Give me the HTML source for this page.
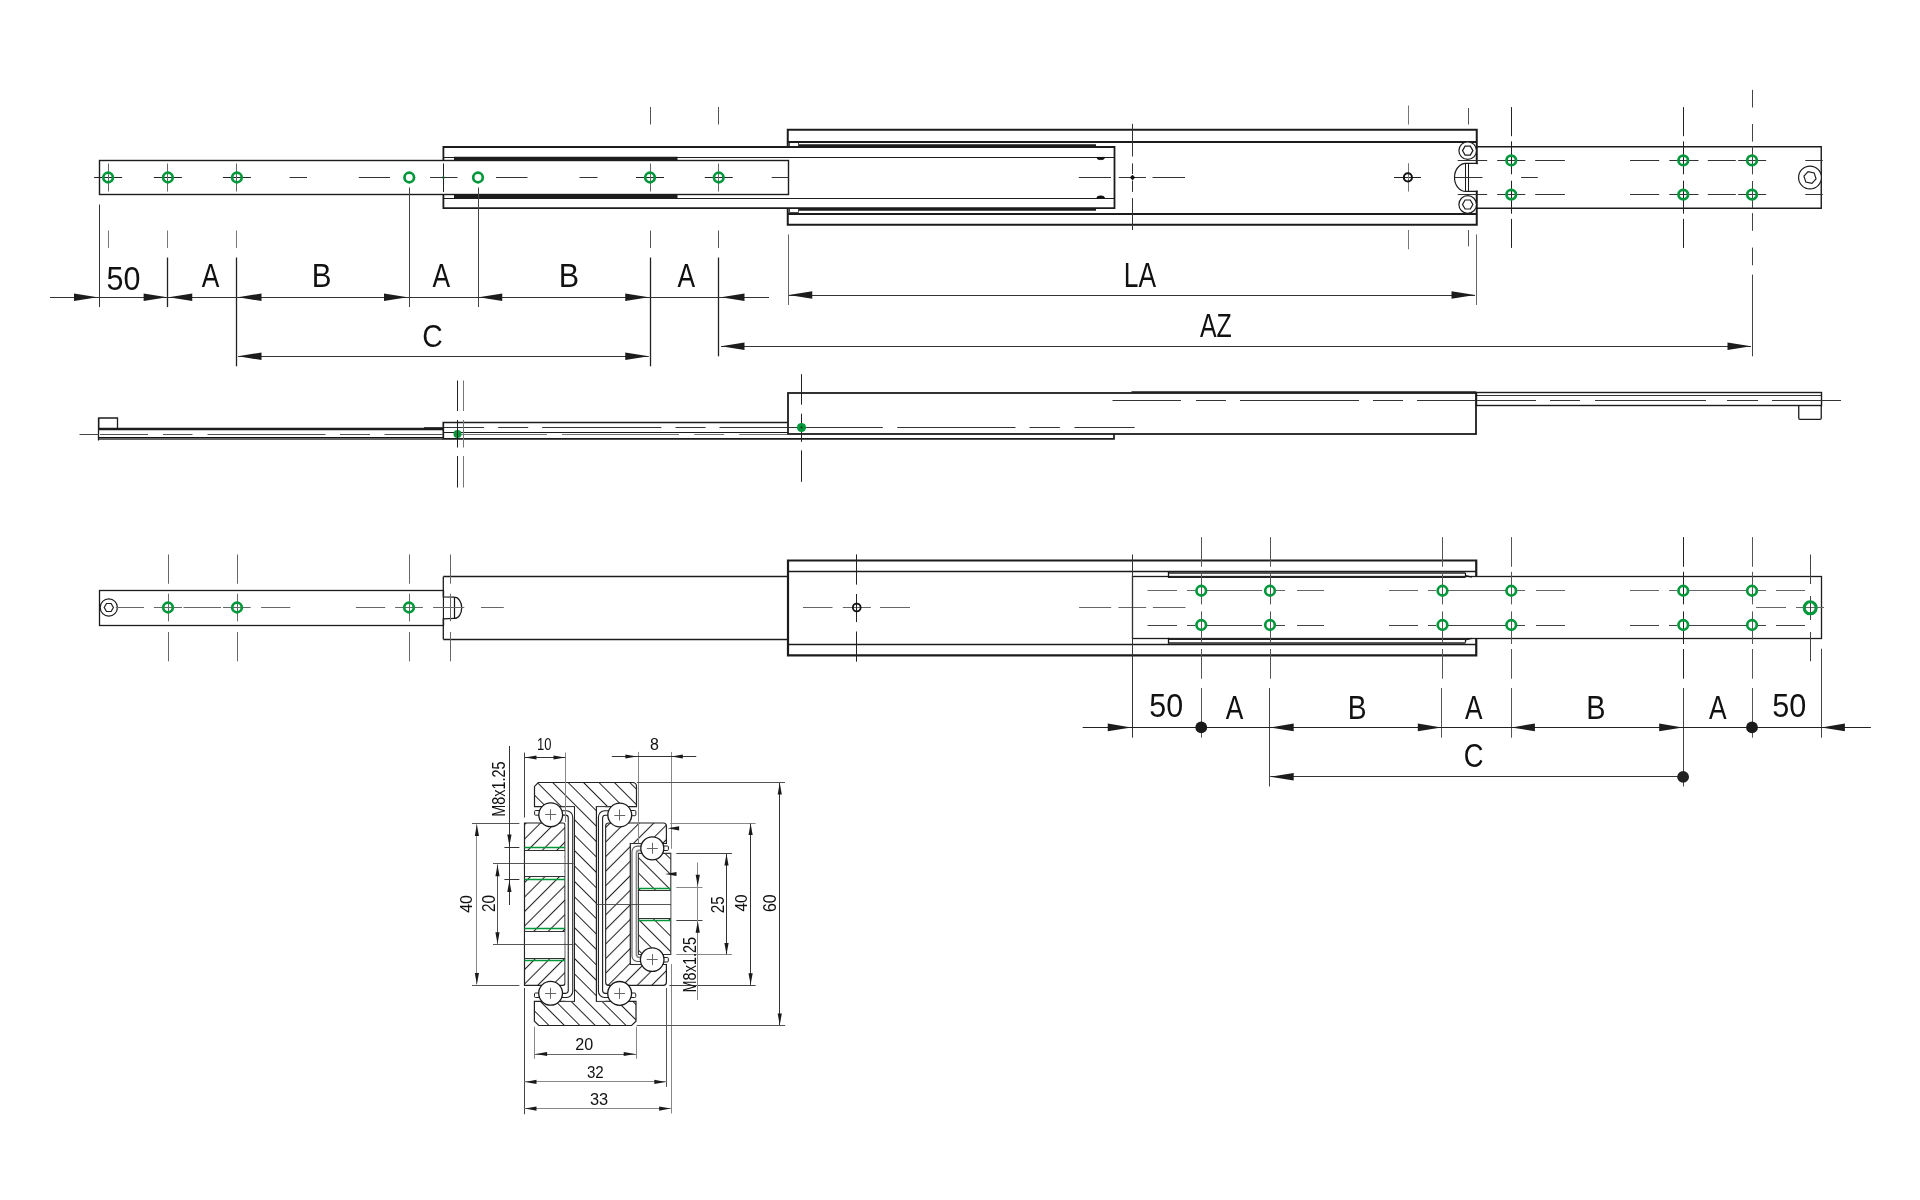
<!DOCTYPE html>
<html><head><meta charset="utf-8"><style>
html,body{margin:0;padding:0;background:#fff;}
svg{display:block;will-change:transform;}
text{font-family:"Liberation Sans",sans-serif;}
</style></head><body>
<svg width="1920" height="1200" viewBox="0 0 1920 1200">
<rect width="1920" height="1200" fill="#fff"/>
<path d="M787.75,147 L787.75,129.8 L1476.75,129.8 L1476.75,224.8 L787.75,224.8 L787.75,208.2" stroke="#1c1c1c" stroke-width="2" fill="none" />
<line x1="788.00" y1="142.00" x2="1476.00" y2="142.00" stroke="#1c1c1c" stroke-width="1.8" />
<line x1="788.00" y1="214.00" x2="1476.00" y2="214.00" stroke="#1c1c1c" stroke-width="1.8" />
<rect x="789.50" y="142.50" width="9.00" height="4.00" stroke="#1c1c1c" stroke-width="0.8" fill="none"/>
<rect x="789.50" y="208.50" width="9.00" height="4.00" stroke="#1c1c1c" stroke-width="0.8" fill="none"/>
<line x1="799.00" y1="145.50" x2="1096.00" y2="145.50" stroke="#1c1c1c" stroke-width="2.6" />
<line x1="799.00" y1="209.50" x2="1096.00" y2="209.50" stroke="#1c1c1c" stroke-width="2.6" />
<path d="M443.4,160.3 L443.4,147 L1114.5,147 L1114.5,208.2 L443.4,208.2 L443.4,194.5" stroke="#1c1c1c" stroke-width="1.8" fill="none" />
<line x1="443.50" y1="157.50" x2="1114.50" y2="157.50" stroke="#1c1c1c" stroke-width="1.0" />
<line x1="443.50" y1="198.50" x2="1114.50" y2="198.50" stroke="#1c1c1c" stroke-width="1.0" />
<line x1="454.00" y1="158.50" x2="677.50" y2="158.50" stroke="#1c1c1c" stroke-width="3.4" />
<line x1="454.00" y1="196.50" x2="677.50" y2="196.50" stroke="#1c1c1c" stroke-width="3.4" />
<line x1="443.50" y1="163.40" x2="443.50" y2="191.90" stroke="#222" stroke-width="1.0" />
<circle cx="443.40" cy="177.50" r="1.30" fill="#00983a"/>
<path d="M1096.8,157.4 a3.9,2.3 0 0 0 7.8,0 Z" stroke="#111" stroke-width="0.6" fill="#111" />
<path d="M1096.8,198.1 a3.9,2.3 0 0 1 7.8,0 Z" stroke="#111" stroke-width="0.6" fill="#111" />
<rect x="99.50" y="160.50" width="689.00" height="34.00" stroke="#1c1c1c" stroke-width="1.4" fill="none"/>
<path d="M1476.75,146.8 L1821.25,146.8 L1821.25,208.3 L1476.75,208.3" stroke="#1c1c1c" stroke-width="1.4" fill="none" />
<rect x="1454" y="164.2" width="25" height="26.4" fill="#fff"/>
<path d="M1477.5,163.4 L1465.9,163.4 A11.4,14 0 0 0 1465.9,191.4 L1477.5,191.4" stroke="#1c1c1c" stroke-width="1.2" fill="none" />
<line x1="1465.50" y1="163.40" x2="1465.50" y2="191.40" stroke="#1c1c1c" stroke-width="1.0" />
<line x1="1468.50" y1="163.40" x2="1468.50" y2="191.40" stroke="#1c1c1c" stroke-width="1.0" />
<circle cx="1467.70" cy="150.60" r="8.80" stroke="#1c1c1c" stroke-width="1.2" fill="#fff"/>
<polygon points="1472.90,150.60 1470.30,155.10 1465.10,155.10 1462.50,150.60 1465.10,146.10 1470.30,146.10" fill="none" stroke="#1c1c1c" stroke-width="1.2"/>
<circle cx="1467.70" cy="204.50" r="8.80" stroke="#1c1c1c" stroke-width="1.2" fill="#fff"/>
<polygon points="1472.90,204.50 1470.30,209.00 1465.10,209.00 1462.50,204.50 1465.10,200.00 1470.30,200.00" fill="none" stroke="#1c1c1c" stroke-width="1.2"/>
<circle cx="1810.00" cy="177.50" r="11.40" stroke="#1c1c1c" stroke-width="1.2" fill="#fff"/>
<polygon points="1816.06,178.79 1811.92,183.40 1805.85,182.11 1803.94,176.21 1808.08,171.60 1814.15,172.89" fill="none" stroke="#1c1c1c" stroke-width="1.2"/>
<line x1="289.50" y1="177.50" x2="307.00" y2="177.50" stroke="#333" stroke-width="1" />
<line x1="358.75" y1="177.50" x2="390.00" y2="177.50" stroke="#333" stroke-width="1" />
<line x1="430.00" y1="177.50" x2="457.50" y2="177.50" stroke="#333" stroke-width="1" />
<line x1="496.00" y1="177.50" x2="527.50" y2="177.50" stroke="#333" stroke-width="1" />
<line x1="579.50" y1="177.50" x2="597.50" y2="177.50" stroke="#333" stroke-width="1" />
<line x1="771.75" y1="177.50" x2="789.00" y2="177.50" stroke="#333" stroke-width="1" />
<line x1="1078.75" y1="177.50" x2="1111.00" y2="177.50" stroke="#333" stroke-width="1" />
<line x1="1118.75" y1="177.50" x2="1146.00" y2="177.50" stroke="#333" stroke-width="1" />
<line x1="1152.50" y1="177.50" x2="1185.00" y2="177.50" stroke="#333" stroke-width="1" />
<line x1="1454.50" y1="177.50" x2="1482.50" y2="177.50" stroke="#333" stroke-width="1" />
<line x1="1521.10" y1="177.50" x2="1537.80" y2="177.50" stroke="#333" stroke-width="1" />
<line x1="1457.70" y1="160.50" x2="1487.20" y2="160.50" stroke="#333" stroke-width="1" />
<line x1="1497.20" y1="160.50" x2="1525.30" y2="160.50" stroke="#333" stroke-width="1" />
<line x1="1535.20" y1="160.50" x2="1564.90" y2="160.50" stroke="#333" stroke-width="1" />
<line x1="1630.00" y1="160.50" x2="1659.20" y2="160.50" stroke="#333" stroke-width="1" />
<line x1="1669.30" y1="160.50" x2="1698.50" y2="160.50" stroke="#333" stroke-width="1" />
<line x1="1707.80" y1="160.50" x2="1735.80" y2="160.50" stroke="#333" stroke-width="1" />
<line x1="1738.20" y1="160.50" x2="1766.20" y2="160.50" stroke="#333" stroke-width="1" />
<line x1="1805.30" y1="160.50" x2="1822.80" y2="160.50" stroke="#333" stroke-width="1" />
<line x1="1457.70" y1="194.50" x2="1487.20" y2="194.50" stroke="#333" stroke-width="1" />
<line x1="1497.20" y1="194.50" x2="1525.30" y2="194.50" stroke="#333" stroke-width="1" />
<line x1="1535.20" y1="194.50" x2="1564.90" y2="194.50" stroke="#333" stroke-width="1" />
<line x1="1630.00" y1="194.50" x2="1659.20" y2="194.50" stroke="#333" stroke-width="1" />
<line x1="1669.30" y1="194.50" x2="1698.50" y2="194.50" stroke="#333" stroke-width="1" />
<line x1="1707.80" y1="194.50" x2="1735.80" y2="194.50" stroke="#333" stroke-width="1" />
<line x1="1738.20" y1="194.50" x2="1766.20" y2="194.50" stroke="#333" stroke-width="1" />
<line x1="1805.30" y1="194.50" x2="1822.80" y2="194.50" stroke="#333" stroke-width="1" />
<line x1="94.10" y1="177.50" x2="122.10" y2="177.50" stroke="#222" stroke-width="1" />
<line x1="108.50" y1="163.50" x2="108.50" y2="191.50" stroke="#666" stroke-width="1" />
<line x1="153.90" y1="177.50" x2="181.90" y2="177.50" stroke="#222" stroke-width="1" />
<line x1="167.50" y1="163.50" x2="167.50" y2="191.50" stroke="#666" stroke-width="1" />
<line x1="222.90" y1="177.50" x2="250.90" y2="177.50" stroke="#222" stroke-width="1" />
<line x1="236.50" y1="163.50" x2="236.50" y2="191.50" stroke="#666" stroke-width="1" />
<line x1="636.00" y1="177.50" x2="664.00" y2="177.50" stroke="#222" stroke-width="1" />
<line x1="650.50" y1="163.50" x2="650.50" y2="191.50" stroke="#666" stroke-width="1" />
<line x1="704.75" y1="177.50" x2="732.75" y2="177.50" stroke="#222" stroke-width="1" />
<line x1="718.50" y1="163.50" x2="718.50" y2="191.50" stroke="#666" stroke-width="1" />
<line x1="1511.15" y1="160.50" x2="1511.35" y2="160.50" stroke="#222" stroke-width="1" />
<line x1="1511.50" y1="160.30" x2="1511.50" y2="160.50" stroke="#666" stroke-width="1" />
<line x1="1511.15" y1="194.50" x2="1511.35" y2="194.50" stroke="#222" stroke-width="1" />
<line x1="1511.50" y1="194.50" x2="1511.50" y2="194.70" stroke="#666" stroke-width="1" />
<line x1="1683.15" y1="160.50" x2="1683.35" y2="160.50" stroke="#222" stroke-width="1" />
<line x1="1683.50" y1="160.30" x2="1683.50" y2="160.50" stroke="#666" stroke-width="1" />
<line x1="1683.15" y1="194.50" x2="1683.35" y2="194.50" stroke="#222" stroke-width="1" />
<line x1="1683.50" y1="194.50" x2="1683.50" y2="194.70" stroke="#666" stroke-width="1" />
<line x1="1751.90" y1="160.50" x2="1752.10" y2="160.50" stroke="#222" stroke-width="1" />
<line x1="1752.50" y1="160.30" x2="1752.50" y2="160.50" stroke="#666" stroke-width="1" />
<line x1="1751.90" y1="194.50" x2="1752.10" y2="194.50" stroke="#222" stroke-width="1" />
<line x1="1752.50" y1="194.50" x2="1752.50" y2="194.70" stroke="#666" stroke-width="1" />
<line x1="1394.00" y1="177.50" x2="1421.00" y2="177.50" stroke="#222" stroke-width="1" />
<polygon points="1132.5,174.8 1135.2,177.5 1132.5,180.2 1129.8,177.5" fill="#111"/>
<line x1="108.50" y1="230.50" x2="108.50" y2="248.00" stroke="#777" stroke-width="1" />
<line x1="167.50" y1="230.50" x2="167.50" y2="248.00" stroke="#777" stroke-width="1" />
<line x1="236.50" y1="230.50" x2="236.50" y2="248.00" stroke="#777" stroke-width="1" />
<line x1="650.50" y1="107.00" x2="650.50" y2="124.50" stroke="#555" stroke-width="1" />
<line x1="650.50" y1="230.50" x2="650.50" y2="248.00" stroke="#555" stroke-width="1" />
<line x1="718.50" y1="107.00" x2="718.50" y2="124.50" stroke="#555" stroke-width="1" />
<line x1="718.50" y1="230.50" x2="718.50" y2="248.00" stroke="#555" stroke-width="1" />
<line x1="1132.50" y1="123.80" x2="1132.50" y2="156.50" stroke="#333" stroke-width="1" />
<line x1="1132.50" y1="163.40" x2="1132.50" y2="174.00" stroke="#333" stroke-width="1" />
<line x1="1132.50" y1="180.60" x2="1132.50" y2="191.90" stroke="#333" stroke-width="1" />
<line x1="1132.50" y1="198.10" x2="1132.50" y2="230.00" stroke="#333" stroke-width="1" />
<line x1="1408.50" y1="105.50" x2="1408.50" y2="124.50" stroke="#777" stroke-width="1" />
<line x1="1408.50" y1="163.20" x2="1408.50" y2="191.60" stroke="#777" stroke-width="1" />
<line x1="1408.50" y1="230.00" x2="1408.50" y2="249.30" stroke="#777" stroke-width="1" />
<line x1="1468.50" y1="108.00" x2="1468.50" y2="124.50" stroke="#555" stroke-width="1" />
<line x1="1468.50" y1="230.00" x2="1468.50" y2="246.30" stroke="#555" stroke-width="1" />
<line x1="1511.50" y1="107.10" x2="1511.50" y2="136.20" stroke="#222" stroke-width="1" />
<line x1="1511.50" y1="141.30" x2="1511.50" y2="174.30" stroke="#222" stroke-width="1" />
<line x1="1511.50" y1="180.70" x2="1511.50" y2="213.70" stroke="#222" stroke-width="1" />
<line x1="1511.50" y1="218.90" x2="1511.50" y2="247.90" stroke="#222" stroke-width="1" />
<line x1="1683.50" y1="107.10" x2="1683.50" y2="136.20" stroke="#222" stroke-width="1" />
<line x1="1683.50" y1="141.30" x2="1683.50" y2="174.30" stroke="#222" stroke-width="1" />
<line x1="1683.50" y1="180.70" x2="1683.50" y2="213.70" stroke="#222" stroke-width="1" />
<line x1="1683.50" y1="218.90" x2="1683.50" y2="247.90" stroke="#222" stroke-width="1" />
<line x1="1752.50" y1="89.90" x2="1752.50" y2="107.50" stroke="#444" stroke-width="1" />
<line x1="1752.50" y1="124.00" x2="1752.50" y2="141.60" stroke="#444" stroke-width="1" />
<line x1="1752.50" y1="146.10" x2="1752.50" y2="174.40" stroke="#444" stroke-width="1" />
<line x1="1752.50" y1="181.00" x2="1752.50" y2="208.20" stroke="#444" stroke-width="1" />
<line x1="1752.50" y1="213.10" x2="1752.50" y2="230.80" stroke="#444" stroke-width="1" />
<line x1="1752.50" y1="247.60" x2="1752.50" y2="265.30" stroke="#444" stroke-width="1" />
<line x1="99.50" y1="204.50" x2="99.50" y2="307.10" stroke="#333" stroke-width="1" />
<line x1="167.50" y1="257.50" x2="167.50" y2="307.10" stroke="#222" stroke-width="1.3" />
<line x1="236.50" y1="257.50" x2="236.50" y2="366.30" stroke="#222" stroke-width="1.3" />
<line x1="409.50" y1="187.50" x2="409.50" y2="307.10" stroke="#444" stroke-width="1" />
<line x1="478.50" y1="187.50" x2="478.50" y2="307.10" stroke="#444" stroke-width="1" />
<line x1="650.50" y1="257.50" x2="650.50" y2="366.30" stroke="#222" stroke-width="1.3" />
<line x1="718.50" y1="257.50" x2="718.50" y2="356.30" stroke="#222" stroke-width="1.3" />
<line x1="788.50" y1="234.50" x2="788.50" y2="305.00" stroke="#666" stroke-width="1" />
<line x1="1476.50" y1="234.50" x2="1476.50" y2="305.00" stroke="#666" stroke-width="1" />
<line x1="1752.50" y1="274.60" x2="1752.50" y2="356.30" stroke="#444" stroke-width="1" />
<line x1="50.00" y1="297.50" x2="769.00" y2="297.50" stroke="#333" stroke-width="1" />
<polygon points="97.50,297.25 74.00,293.45 74.00,301.05" fill="#1c1c1c"/>
<polygon points="167.10,297.25 143.60,293.45 143.60,301.05" fill="#1c1c1c"/>
<polygon points="168.75,297.25 192.25,293.45 192.25,301.05" fill="#1c1c1c"/>
<polygon points="238.00,297.25 261.50,293.45 261.50,301.05" fill="#1c1c1c"/>
<polygon points="407.50,297.25 384.00,293.45 384.00,301.05" fill="#1c1c1c"/>
<polygon points="478.75,297.25 502.25,293.45 502.25,301.05" fill="#1c1c1c"/>
<polygon points="648.75,297.25 625.25,293.45 625.25,301.05" fill="#1c1c1c"/>
<polygon points="721.00,297.25 744.50,293.45 744.50,301.05" fill="#1c1c1c"/>
<line x1="788.75" y1="295.50" x2="1475.00" y2="295.50" stroke="#333" stroke-width="1" />
<polygon points="788.75,295.00 812.25,291.20 812.25,298.80" fill="#1c1c1c"/>
<polygon points="1475.00,295.00 1451.50,291.20 1451.50,298.80" fill="#1c1c1c"/>
<line x1="721.00" y1="346.50" x2="1751.00" y2="346.50" stroke="#333" stroke-width="1" />
<polygon points="721.00,346.25 744.50,342.45 744.50,350.05" fill="#1c1c1c"/>
<polygon points="1751.00,346.25 1727.50,342.45 1727.50,350.05" fill="#1c1c1c"/>
<line x1="238.00" y1="356.50" x2="648.75" y2="356.50" stroke="#333" stroke-width="1" />
<polygon points="238.00,356.25 261.50,352.45 261.50,360.05" fill="#1c1c1c"/>
<polygon points="648.75,356.25 625.25,352.45 625.25,360.05" fill="#1c1c1c"/>
<text transform="translate(106.48,290.03) scale(0.8931,1)" font-size="34.11" fill="#111">50</text>
<text transform="translate(201.70,287.48) scale(0.8071,1)" font-size="32.70" fill="#111">A</text>
<text transform="translate(311.83,287.48) scale(0.9036,1)" font-size="32.70" fill="#111">B</text>
<text transform="translate(432.45,287.48) scale(0.8071,1)" font-size="32.70" fill="#111">A</text>
<text transform="translate(558.75,287.48) scale(0.9322,1)" font-size="32.70" fill="#111">B</text>
<text transform="translate(677.45,287.48) scale(0.8071,1)" font-size="32.70" fill="#111">A</text>
<text transform="translate(422.33,347.16) scale(0.8920,1)" font-size="31.78" fill="#111">C</text>
<text transform="translate(1123.84,286.72) scale(0.7473,1)" font-size="35.25" fill="#111">LA</text>
<text transform="translate(1199.95,336.73) scale(0.7448,1)" font-size="33.43" fill="#111">AZ</text>
<path d="M98.75,429.25 L98.75,418 L117.5,418 L117.5,429.25" stroke="#1c1c1c" stroke-width="1.3" fill="none" />
<line x1="98.75" y1="429.00" x2="443.00" y2="429.00" stroke="#1c1c1c" stroke-width="2.4" />
<line x1="98.75" y1="437.50" x2="443.00" y2="437.50" stroke="#111" stroke-width="1.0" />
<line x1="98.75" y1="439.00" x2="443.00" y2="439.00" stroke="#666" stroke-width="2.2" />
<line x1="98.50" y1="418.00" x2="98.50" y2="440.50" stroke="#1c1c1c" stroke-width="1.3" />
<line x1="424.00" y1="428.00" x2="443.00" y2="428.00" stroke="#1c1c1c" stroke-width="1.6" />
<line x1="79.50" y1="434.50" x2="98.75" y2="434.50" stroke="#444" stroke-width="1" />
<line x1="100.00" y1="434.50" x2="148.00" y2="434.50" stroke="#555" stroke-width="1" />
<line x1="163.00" y1="434.50" x2="192.50" y2="434.50" stroke="#555" stroke-width="1" />
<line x1="207.50" y1="434.50" x2="325.50" y2="434.50" stroke="#555" stroke-width="1" />
<line x1="340.00" y1="434.50" x2="370.00" y2="434.50" stroke="#555" stroke-width="1" />
<line x1="384.50" y1="434.50" x2="442.50" y2="434.50" stroke="#555" stroke-width="1" />
<path d="M787.5,422.5 L443.3,422.5 L443.3,438.9 L1114,438.9 L1114,434" stroke="#1c1c1c" stroke-width="1.7" fill="none" />
<line x1="443.25" y1="432.50" x2="787.50" y2="432.50" stroke="#1c1c1c" stroke-width="1.0" />
<line x1="443.75" y1="427.50" x2="484.10" y2="427.50" stroke="#333" stroke-width="1" />
<line x1="498.20" y1="427.50" x2="528.20" y2="427.50" stroke="#333" stroke-width="1" />
<line x1="542.20" y1="427.50" x2="661.40" y2="427.50" stroke="#333" stroke-width="1" />
<line x1="675.50" y1="427.50" x2="705.50" y2="427.50" stroke="#333" stroke-width="1" />
<line x1="719.50" y1="427.50" x2="787.10" y2="427.50" stroke="#333" stroke-width="1" />
<line x1="788.40" y1="427.50" x2="882.80" y2="427.50" stroke="#333" stroke-width="1" />
<line x1="897.30" y1="427.50" x2="1015.50" y2="427.50" stroke="#333" stroke-width="1" />
<line x1="1029.50" y1="427.50" x2="1059.90" y2="427.50" stroke="#333" stroke-width="1" />
<line x1="1074.50" y1="427.50" x2="1134.60" y2="427.50" stroke="#333" stroke-width="1" />
<line x1="460.60" y1="434.50" x2="547.00" y2="434.50" stroke="#777" stroke-width="1" />
<line x1="562.00" y1="434.50" x2="679.00" y2="434.50" stroke="#777" stroke-width="1" />
<line x1="694.20" y1="434.50" x2="724.20" y2="434.50" stroke="#777" stroke-width="1" />
<line x1="739.20" y1="434.50" x2="787.10" y2="434.50" stroke="#777" stroke-width="1" />
<rect x="788.00" y="393.00" width="688.00" height="41.00" stroke="#1c1c1c" stroke-width="1.8" fill="none"/>
<line x1="1131.50" y1="392.00" x2="1476.25" y2="392.00" stroke="#1c1c1c" stroke-width="1.5" />
<line x1="1112.50" y1="400.50" x2="1181.00" y2="400.50" stroke="#333" stroke-width="1" />
<line x1="1196.00" y1="400.50" x2="1226.00" y2="400.50" stroke="#333" stroke-width="1" />
<line x1="1240.00" y1="400.50" x2="1359.00" y2="400.50" stroke="#333" stroke-width="1" />
<line x1="1373.00" y1="400.50" x2="1403.00" y2="400.50" stroke="#333" stroke-width="1" />
<line x1="1417.00" y1="400.50" x2="1476.00" y2="400.50" stroke="#333" stroke-width="1" />
<rect x="1476.50" y="392.50" width="345.00" height="13.00" stroke="#1c1c1c" stroke-width="1.4" fill="none"/>
<line x1="1476.75" y1="395.50" x2="1821.25" y2="395.50" stroke="#1c1c1c" stroke-width="0.9" />
<line x1="1477.00" y1="400.50" x2="1536.00" y2="400.50" stroke="#333" stroke-width="1" />
<line x1="1550.00" y1="400.50" x2="1580.00" y2="400.50" stroke="#333" stroke-width="1" />
<line x1="1595.00" y1="400.50" x2="1706.00" y2="400.50" stroke="#333" stroke-width="1" />
<line x1="1727.00" y1="400.50" x2="1758.00" y2="400.50" stroke="#333" stroke-width="1" />
<line x1="1772.00" y1="400.50" x2="1821.00" y2="400.50" stroke="#333" stroke-width="1" />
<line x1="1821.00" y1="400.50" x2="1841.00" y2="400.50" stroke="#333" stroke-width="1" />
<path d="M1798.75,405.5 L1798.75,418 Q1798.75,419.3 1800,419.3 L1820,419.3 Q1821.25,419.3 1821.25,418 L1821.25,405.5" stroke="#1c1c1c" stroke-width="1.3" fill="none" />
<circle cx="457.50" cy="433.90" r="4.00" fill="#00983a"/>
<line x1="457.50" y1="380.50" x2="457.50" y2="411.00" stroke="#222" stroke-width="1" />
<line x1="457.50" y1="420.00" x2="457.50" y2="447.50" stroke="#222" stroke-width="1" />
<line x1="457.50" y1="456.00" x2="457.50" y2="487.50" stroke="#222" stroke-width="1" />
<line x1="463.50" y1="380.50" x2="463.50" y2="411.00" stroke="#777" stroke-width="1" />
<line x1="463.50" y1="420.00" x2="463.50" y2="447.50" stroke="#777" stroke-width="1" />
<line x1="463.50" y1="456.00" x2="463.50" y2="487.50" stroke="#777" stroke-width="1" />
<line x1="801.50" y1="374.20" x2="801.50" y2="404.70" stroke="#222" stroke-width="1" />
<line x1="801.50" y1="413.70" x2="801.50" y2="441.80" stroke="#222" stroke-width="1" />
<line x1="801.50" y1="450.40" x2="801.50" y2="481.80" stroke="#222" stroke-width="1" />
<circle cx="801.50" cy="427.50" r="4.60" fill="#00983a"/>
<circle cx="801.50" cy="427.50" r="1.00" fill="#222"/>
<rect x="99.50" y="590.50" width="344.00" height="35.00" stroke="#1c1c1c" stroke-width="1.3" fill="none"/>
<circle cx="108.80" cy="607.50" r="8.60" stroke="#1c1c1c" stroke-width="1.2" fill="#fff"/>
<polygon points="113.40,607.50 111.10,611.48 106.50,611.48 104.20,607.50 106.50,603.52 111.10,603.52" fill="none" stroke="#1c1c1c" stroke-width="1.2"/>
<line x1="443.25" y1="576.50" x2="788.00" y2="576.50" stroke="#1c1c1c" stroke-width="1.3" />
<line x1="443.25" y1="639.50" x2="788.00" y2="639.50" stroke="#1c1c1c" stroke-width="1.3" />
<rect x="444" y="597.5" width="19" height="21" fill="#fff"/>
<path d="M443.3,576.75 L443.3,596.9 L454.5,597.2 A7.2,10.6 0 0 1 454.5,618.4 L443.3,618.9 L443.3,639.25" stroke="#1c1c1c" stroke-width="1.3" fill="none" />
<line x1="454.50" y1="597.20" x2="454.50" y2="618.40" stroke="#111" stroke-width="1.2" />
<path d="M1476.25,576.75 L1476.25,560.5 L788,560.5 L788,655.4 L1476.25,655.4 L1476.25,638.75" stroke="#1c1c1c" stroke-width="2.2" fill="none" />
<line x1="788.00" y1="571.50" x2="1476.25" y2="571.50" stroke="#1c1c1c" stroke-width="1.3" />
<line x1="788.00" y1="644.50" x2="1476.25" y2="644.50" stroke="#1c1c1c" stroke-width="1.3" />
<rect x="1132.50" y="576.50" width="689.00" height="62.00" stroke="#1c1c1c" stroke-width="1.3" fill="none"/>
<line x1="1168.20" y1="573.00" x2="1465.50" y2="573.00" stroke="#222" stroke-width="1.7" />
<line x1="1168.20" y1="577.00" x2="1465.50" y2="577.00" stroke="#222" stroke-width="2.2" />
<path d="M1465.5,573 L1465.5,575.5 L1471.8,577.2" stroke="#111" stroke-width="1.2" fill="none" />
<line x1="1168.50" y1="572.00" x2="1168.50" y2="577.70" stroke="#111" stroke-width="1.3" />
<line x1="1168.20" y1="643.00" x2="1465.50" y2="643.00" stroke="#222" stroke-width="1.7" />
<line x1="1168.20" y1="639.00" x2="1465.50" y2="639.00" stroke="#222" stroke-width="2.2" />
<path d="M1465.5,642.5 L1465.5,640 L1471.8,638.3" stroke="#111" stroke-width="1.2" fill="none" />
<line x1="1168.50" y1="637.80" x2="1168.50" y2="643.50" stroke="#111" stroke-width="1.3" />
<line x1="115.80" y1="607.50" x2="144.00" y2="607.50" stroke="#666" stroke-width="1" />
<line x1="153.90" y1="607.50" x2="182.00" y2="607.50" stroke="#666" stroke-width="1" />
<line x1="183.50" y1="607.50" x2="221.00" y2="607.50" stroke="#666" stroke-width="1" />
<line x1="222.90" y1="607.50" x2="250.70" y2="607.50" stroke="#666" stroke-width="1" />
<line x1="261.10" y1="607.50" x2="290.30" y2="607.50" stroke="#666" stroke-width="1" />
<line x1="355.90" y1="607.50" x2="385.20" y2="607.50" stroke="#666" stroke-width="1" />
<line x1="395.10" y1="607.50" x2="422.90" y2="607.50" stroke="#666" stroke-width="1" />
<line x1="433.10" y1="607.50" x2="464.30" y2="607.50" stroke="#666" stroke-width="1" />
<line x1="481.00" y1="607.50" x2="503.80" y2="607.50" stroke="#666" stroke-width="1" />
<line x1="803.00" y1="607.50" x2="832.50" y2="607.50" stroke="#666" stroke-width="1" />
<line x1="842.80" y1="607.50" x2="870.90" y2="607.50" stroke="#666" stroke-width="1" />
<line x1="880.00" y1="607.50" x2="910.00" y2="607.50" stroke="#666" stroke-width="1" />
<line x1="1079.10" y1="607.50" x2="1111.20" y2="607.50" stroke="#666" stroke-width="1" />
<line x1="1118.40" y1="607.50" x2="1146.20" y2="607.50" stroke="#666" stroke-width="1" />
<line x1="1152.90" y1="607.50" x2="1185.50" y2="607.50" stroke="#666" stroke-width="1" />
<line x1="1756.00" y1="607.50" x2="1786.00" y2="607.50" stroke="#666" stroke-width="1" />
<line x1="1796.00" y1="607.50" x2="1824.00" y2="607.50" stroke="#666" stroke-width="1" />
<line x1="1147.50" y1="590.50" x2="1177.00" y2="590.50" stroke="#666" stroke-width="1" />
<line x1="1187.00" y1="590.50" x2="1195.00" y2="590.50" stroke="#666" stroke-width="1" />
<line x1="1207.00" y1="590.50" x2="1262.00" y2="590.50" stroke="#666" stroke-width="1" />
<line x1="1276.00" y1="590.50" x2="1285.00" y2="590.50" stroke="#666" stroke-width="1" />
<line x1="1297.00" y1="590.50" x2="1324.00" y2="590.50" stroke="#666" stroke-width="1" />
<line x1="1389.00" y1="590.50" x2="1418.00" y2="590.50" stroke="#666" stroke-width="1" />
<line x1="1428.00" y1="590.50" x2="1436.00" y2="590.50" stroke="#666" stroke-width="1" />
<line x1="1448.00" y1="590.50" x2="1506.00" y2="590.50" stroke="#666" stroke-width="1" />
<line x1="1517.00" y1="590.50" x2="1525.00" y2="590.50" stroke="#666" stroke-width="1" />
<line x1="1536.00" y1="590.50" x2="1565.00" y2="590.50" stroke="#666" stroke-width="1" />
<line x1="1630.00" y1="590.50" x2="1659.00" y2="590.50" stroke="#666" stroke-width="1" />
<line x1="1669.00" y1="590.50" x2="1677.00" y2="590.50" stroke="#666" stroke-width="1" />
<line x1="1689.00" y1="590.50" x2="1746.00" y2="590.50" stroke="#666" stroke-width="1" />
<line x1="1758.00" y1="590.50" x2="1766.00" y2="590.50" stroke="#666" stroke-width="1" />
<line x1="1776.00" y1="590.50" x2="1805.00" y2="590.50" stroke="#666" stroke-width="1" />
<line x1="1147.50" y1="625.50" x2="1177.00" y2="625.50" stroke="#444" stroke-width="1" />
<line x1="1187.00" y1="625.50" x2="1195.00" y2="625.50" stroke="#444" stroke-width="1" />
<line x1="1207.00" y1="625.50" x2="1262.00" y2="625.50" stroke="#444" stroke-width="1" />
<line x1="1276.00" y1="625.50" x2="1285.00" y2="625.50" stroke="#444" stroke-width="1" />
<line x1="1297.00" y1="625.50" x2="1324.00" y2="625.50" stroke="#444" stroke-width="1" />
<line x1="1389.00" y1="625.50" x2="1418.00" y2="625.50" stroke="#444" stroke-width="1" />
<line x1="1428.00" y1="625.50" x2="1436.00" y2="625.50" stroke="#444" stroke-width="1" />
<line x1="1448.00" y1="625.50" x2="1506.00" y2="625.50" stroke="#444" stroke-width="1" />
<line x1="1517.00" y1="625.50" x2="1525.00" y2="625.50" stroke="#444" stroke-width="1" />
<line x1="1536.00" y1="625.50" x2="1565.00" y2="625.50" stroke="#444" stroke-width="1" />
<line x1="1630.00" y1="625.50" x2="1659.00" y2="625.50" stroke="#444" stroke-width="1" />
<line x1="1669.00" y1="625.50" x2="1677.00" y2="625.50" stroke="#444" stroke-width="1" />
<line x1="1689.00" y1="625.50" x2="1746.00" y2="625.50" stroke="#444" stroke-width="1" />
<line x1="1758.00" y1="625.50" x2="1766.00" y2="625.50" stroke="#444" stroke-width="1" />
<line x1="1776.00" y1="625.50" x2="1805.00" y2="625.50" stroke="#444" stroke-width="1" />
<line x1="167.90" y1="607.50" x2="168.10" y2="607.50" stroke="#222" stroke-width="1" />
<line x1="168.50" y1="607.40" x2="168.50" y2="607.60" stroke="#666" stroke-width="1" />
<line x1="236.90" y1="607.50" x2="237.10" y2="607.50" stroke="#222" stroke-width="1" />
<line x1="237.50" y1="607.40" x2="237.50" y2="607.60" stroke="#666" stroke-width="1" />
<line x1="408.90" y1="607.50" x2="409.10" y2="607.50" stroke="#222" stroke-width="1" />
<line x1="409.50" y1="607.40" x2="409.50" y2="607.60" stroke="#666" stroke-width="1" />
<line x1="168.50" y1="554.50" x2="168.50" y2="583.75" stroke="#666" stroke-width="1" />
<line x1="168.50" y1="593.75" x2="168.50" y2="621.25" stroke="#666" stroke-width="1" />
<line x1="168.50" y1="632.00" x2="168.50" y2="661.25" stroke="#666" stroke-width="1" />
<line x1="237.50" y1="554.50" x2="237.50" y2="583.75" stroke="#666" stroke-width="1" />
<line x1="237.50" y1="593.75" x2="237.50" y2="621.25" stroke="#666" stroke-width="1" />
<line x1="237.50" y1="632.00" x2="237.50" y2="661.25" stroke="#666" stroke-width="1" />
<line x1="409.50" y1="554.50" x2="409.50" y2="583.75" stroke="#666" stroke-width="1" />
<line x1="409.50" y1="593.75" x2="409.50" y2="621.25" stroke="#666" stroke-width="1" />
<line x1="409.50" y1="632.00" x2="409.50" y2="661.25" stroke="#666" stroke-width="1" />
<line x1="450.50" y1="554.50" x2="450.50" y2="583.75" stroke="#666" stroke-width="1" />
<line x1="450.50" y1="593.75" x2="450.50" y2="621.25" stroke="#666" stroke-width="1" />
<line x1="450.50" y1="632.00" x2="450.50" y2="661.25" stroke="#666" stroke-width="1" />
<line x1="856.50" y1="554.40" x2="856.50" y2="584.60" stroke="#222" stroke-width="1" />
<line x1="856.50" y1="594.00" x2="856.50" y2="622.10" stroke="#222" stroke-width="1" />
<line x1="856.50" y1="631.50" x2="856.50" y2="661.70" stroke="#222" stroke-width="1" />
<line x1="1810.50" y1="554.50" x2="1810.50" y2="584.00" stroke="#444" stroke-width="1" />
<line x1="1810.50" y1="596.00" x2="1810.50" y2="620.00" stroke="#444" stroke-width="1" />
<line x1="1810.50" y1="632.00" x2="1810.50" y2="661.25" stroke="#444" stroke-width="1" />
<line x1="1201.50" y1="537.10" x2="1201.50" y2="566.80" stroke="#555" stroke-width="1" />
<line x1="1201.50" y1="571.80" x2="1201.50" y2="604.40" stroke="#555" stroke-width="1" />
<line x1="1201.50" y1="611.40" x2="1201.50" y2="644.00" stroke="#555" stroke-width="1" />
<line x1="1201.50" y1="649.00" x2="1201.50" y2="678.70" stroke="#555" stroke-width="1" />
<line x1="1270.50" y1="537.10" x2="1270.50" y2="566.80" stroke="#555" stroke-width="1" />
<line x1="1270.50" y1="571.80" x2="1270.50" y2="604.40" stroke="#555" stroke-width="1" />
<line x1="1270.50" y1="611.40" x2="1270.50" y2="644.00" stroke="#555" stroke-width="1" />
<line x1="1270.50" y1="649.00" x2="1270.50" y2="678.70" stroke="#555" stroke-width="1" />
<line x1="1442.50" y1="537.10" x2="1442.50" y2="566.80" stroke="#555" stroke-width="1" />
<line x1="1442.50" y1="571.80" x2="1442.50" y2="604.40" stroke="#555" stroke-width="1" />
<line x1="1442.50" y1="611.40" x2="1442.50" y2="644.00" stroke="#555" stroke-width="1" />
<line x1="1442.50" y1="649.00" x2="1442.50" y2="678.70" stroke="#555" stroke-width="1" />
<line x1="1511.50" y1="537.10" x2="1511.50" y2="566.80" stroke="#555" stroke-width="1" />
<line x1="1511.50" y1="571.80" x2="1511.50" y2="604.40" stroke="#555" stroke-width="1" />
<line x1="1511.50" y1="611.40" x2="1511.50" y2="644.00" stroke="#555" stroke-width="1" />
<line x1="1511.50" y1="649.00" x2="1511.50" y2="678.70" stroke="#555" stroke-width="1" />
<line x1="1683.50" y1="537.10" x2="1683.50" y2="566.80" stroke="#222" stroke-width="1" />
<line x1="1683.50" y1="571.80" x2="1683.50" y2="604.40" stroke="#222" stroke-width="1" />
<line x1="1683.50" y1="611.40" x2="1683.50" y2="644.00" stroke="#222" stroke-width="1" />
<line x1="1683.50" y1="649.00" x2="1683.50" y2="678.70" stroke="#222" stroke-width="1" />
<line x1="1752.50" y1="537.10" x2="1752.50" y2="566.80" stroke="#555" stroke-width="1" />
<line x1="1752.50" y1="571.80" x2="1752.50" y2="604.40" stroke="#555" stroke-width="1" />
<line x1="1752.50" y1="611.40" x2="1752.50" y2="644.00" stroke="#555" stroke-width="1" />
<line x1="1752.50" y1="649.00" x2="1752.50" y2="678.70" stroke="#555" stroke-width="1" />
<line x1="1132.50" y1="554.50" x2="1132.50" y2="737.70" stroke="#333" stroke-width="1" />
<line x1="1821.50" y1="648.75" x2="1821.50" y2="737.70" stroke="#444" stroke-width="1" />
<line x1="1201.50" y1="688.00" x2="1201.50" y2="737.70" stroke="#555" stroke-width="1" />
<line x1="1441.50" y1="688.00" x2="1441.50" y2="737.70" stroke="#555" stroke-width="1" />
<line x1="1511.50" y1="688.00" x2="1511.50" y2="737.70" stroke="#555" stroke-width="1" />
<line x1="1752.50" y1="688.00" x2="1752.50" y2="737.70" stroke="#555" stroke-width="1" />
<line x1="1269.50" y1="688.00" x2="1269.50" y2="786.50" stroke="#444" stroke-width="1" />
<line x1="1683.50" y1="688.00" x2="1683.50" y2="786.50" stroke="#444" stroke-width="1" />
<line x1="1082.70" y1="727.50" x2="1870.90" y2="727.50" stroke="#222" stroke-width="1" />
<polygon points="1131.25,727.40 1107.75,723.60 1107.75,731.20" fill="#1c1c1c"/>
<polygon points="1270.20,727.40 1293.70,723.60 1293.70,731.20" fill="#1c1c1c"/>
<polygon points="1441.30,727.40 1417.80,723.60 1417.80,731.20" fill="#1c1c1c"/>
<polygon points="1511.40,727.40 1534.90,723.60 1534.90,731.20" fill="#1c1c1c"/>
<polygon points="1682.70,727.40 1659.20,723.60 1659.20,731.20" fill="#1c1c1c"/>
<polygon points="1821.40,727.40 1844.90,723.60 1844.90,731.20" fill="#1c1c1c"/>
<circle cx="1201.25" cy="727.40" r="5.90" fill="#1a1a1a"/>
<circle cx="1752.00" cy="727.40" r="5.90" fill="#1a1a1a"/>
<line x1="1270.20" y1="776.50" x2="1683.10" y2="776.50" stroke="#333" stroke-width="1" />
<polygon points="1270.20,776.80 1293.70,773.00 1293.70,780.60" fill="#1c1c1c"/>
<circle cx="1683.10" cy="776.90" r="5.90" fill="#222"/>
<text transform="translate(1149.28,716.94) scale(0.9062,1)" font-size="33.62" fill="#111">50</text>
<text transform="translate(1225.75,718.98) scale(0.7896,1)" font-size="33.43" fill="#111">A</text>
<text transform="translate(1347.69,718.98) scale(0.8418,1)" font-size="33.43" fill="#111">B</text>
<text transform="translate(1464.95,718.98) scale(0.7850,1)" font-size="33.43" fill="#111">A</text>
<text transform="translate(1586.23,719.48) scale(0.8757,1)" font-size="32.99" fill="#111">B</text>
<text transform="translate(1708.95,718.98) scale(0.7896,1)" font-size="33.43" fill="#111">A</text>
<text transform="translate(1772.27,716.94) scale(0.9120,1)" font-size="33.62" fill="#111">50</text>
<text transform="translate(1463.63,767.24) scale(0.8220,1)" font-size="33.33" fill="#111">C</text>
<defs>
<pattern id="hb" patternUnits="userSpaceOnUse" width="10.9" height="10.9" patternTransform="rotate(45) translate(0,4.46)">
<line x1="-1" y1="5.45" x2="12" y2="5.45" stroke="#222" stroke-width="1.05"/></pattern>
<pattern id="hf" patternUnits="userSpaceOnUse" width="10.25" height="10.25" patternTransform="rotate(-45) translate(0,5.83)">
<line x1="-1" y1="5.125" x2="12" y2="5.125" stroke="#222" stroke-width="1.05"/></pattern>
<pattern id="hc" patternUnits="userSpaceOnUse" width="10.3" height="10.3" patternTransform="rotate(-45) translate(0,9.15)">
<line x1="-1" y1="5.15" x2="12" y2="5.15" stroke="#222" stroke-width="1.05"/></pattern>
<pattern id="hd" patternUnits="userSpaceOnUse" width="10.9" height="10.9" patternTransform="rotate(45) translate(0,7.86)">
<line x1="-1" y1="5.45" x2="12" y2="5.45" stroke="#222" stroke-width="1.05"/></pattern>
</defs>
<path d="M538.3,782.5 L632.5,782.5 Q636.5,782.5 636.5,786.5 L636.5,806.6 L596.4,806.6 L596.4,1001.3 L636.0,1001.3 L636.0,1021.2 L631.6,1025.5 L538.8,1025.5 L534.4,1021.2 L534.4,1001.3 L574.4,1001.3 L574.4,806.6 L534.5,806.6 L534.5,786.4 Z" stroke="#222" stroke-width="1.2" fill="url(#hb)" />
<path d="M524.5,823 L563,823 Q565,823 565,825 L565,983.3 Q565,985.3 563,985.3 L524.5,985.3 Z" stroke="#222" stroke-width="1.2" fill="url(#hf)" />
<rect x="525.1" y="850.20" width="39.3" height="26.70" fill="#fff"/>
<line x1="524.50" y1="850.50" x2="565.00" y2="850.50" stroke="#333" stroke-width="1" />
<line x1="524.50" y1="876.50" x2="565.00" y2="876.50" stroke="#333" stroke-width="1" />
<line x1="524.50" y1="847.50" x2="565.00" y2="847.50" stroke="#00983a" stroke-width="1.3" />
<line x1="524.50" y1="879.50" x2="565.00" y2="879.50" stroke="#00983a" stroke-width="1.3" />
<rect x="525.1" y="931.20" width="39.3" height="26.90" fill="#fff"/>
<line x1="524.50" y1="931.50" x2="565.00" y2="931.50" stroke="#333" stroke-width="1" />
<line x1="524.50" y1="958.50" x2="565.00" y2="958.50" stroke="#333" stroke-width="1" />
<line x1="524.50" y1="928.50" x2="565.00" y2="928.50" stroke="#00983a" stroke-width="1.3" />
<line x1="524.50" y1="960.50" x2="565.00" y2="960.50" stroke="#00983a" stroke-width="1.3" />
<path d="M605.6,826 Q605.6,823 608.6,823 L663.4,823 Q666.4,823 666.4,826 L666.4,843.5 L630.3,843.5 L630.3,964.5 L666.4,964.5 L666.4,982.3 Q666.4,985.3 663.4,985.3 L608.6,985.3 Q605.6,985.3 605.6,982.3 Z" stroke="#222" stroke-width="1.2" fill="url(#hc)" />
<path d="M638.4,853.4 L670.8,853.4 L670.8,954.5 L638.4,954.5 Z" stroke="#333" stroke-width="1.1" fill="url(#hd)" />
<rect x="639" y="890" width="31.3" height="28" fill="#fff"/>
<line x1="638.40" y1="890.50" x2="670.80" y2="890.50" stroke="#333" stroke-width="1" />
<line x1="638.40" y1="918.50" x2="670.80" y2="918.50" stroke="#333" stroke-width="1" />
<line x1="638.40" y1="888.50" x2="670.80" y2="888.50" stroke="#00983a" stroke-width="1.3" />
<line x1="638.40" y1="920.50" x2="670.80" y2="920.50" stroke="#00983a" stroke-width="1.3" />
<rect x="565.6" y="807.2" width="8.3" height="193.6" fill="#fff"/>
<rect x="597" y="807.2" width="8.1" height="193.6" fill="#fff"/>
<rect x="631" y="844.2" width="7" height="119.6" fill="#fff"/>
<line x1="561.30" y1="806.50" x2="574.40" y2="806.50" stroke="#444" stroke-width="1.1" />
<line x1="596.40" y1="1001.50" x2="609.40" y2="1001.50" stroke="#444" stroke-width="1.1" />
<line x1="561.30" y1="1001.50" x2="574.40" y2="1001.50" stroke="#444" stroke-width="1.1" />
<line x1="596.40" y1="806.50" x2="609.40" y2="806.50" stroke="#444" stroke-width="1.1" />
<path d="M561.5,810.8 L566.5,810.8 A6.25,6.25 0 0 1 572.75,817 L572.75,991.3 A6.25,6.25 0 0 1 566.5,997.5 L561.5,997.5" stroke="#1c1c1c" stroke-width="1.1" fill="none" />
<path d="M561.5,815.1 L565.5,815.1 A2.75,2.75 0 0 1 568.25,817.8 L568.25,990.6 A2.8,2.8 0 0 1 565.5,993.4 L561.5,993.4" stroke="#1c1c1c" stroke-width="1.1" fill="none" />
<path d="M609,810.8 L604.6,810.8 A6.25,6.25 0 0 0 598.4,817 L598.4,991.3 A6.25,6.25 0 0 0 604.6,997.5 L609,997.5" stroke="#1c1c1c" stroke-width="1.1" fill="none" />
<path d="M609,815.2 L605.4,815.2 A2.8,2.8 0 0 0 602.6,818 L602.6,990.6 A2.8,2.8 0 0 0 605.4,993.4 L609,993.4" stroke="#1c1c1c" stroke-width="1.1" fill="none" />
<path d="M642,846.1 L637.5,846.1 A5.5,5.5 0 0 0 632,851.6 L632,956 A5.5,5.5 0 0 0 637.5,961.5 L642,961.5" stroke="#555" stroke-width="1.1" fill="none" />
<path d="M642,850.3 L639,850.3 A2.5,2.5 0 0 0 636.5,852.8 L636.5,954.8 A2.5,2.5 0 0 0 639,957.3 L642,957.3" stroke="#888" stroke-width="1.8" fill="none" />
<line x1="630.30" y1="843.50" x2="642.00" y2="843.50" stroke="#333" stroke-width="1.1" />
<line x1="630.30" y1="964.50" x2="642.00" y2="964.50" stroke="#333" stroke-width="1.1" />
<rect x="534.60" y="810.50" width="6" height="4.70" rx="1" fill="#fff" stroke="#222" stroke-width="1"/>
<circle cx="550.70" cy="814.80" r="11.90" stroke="#1a1a1a" stroke-width="1.3" fill="#fff"/>
<line x1="545.20" y1="814.50" x2="556.20" y2="814.50" stroke="#666" stroke-width="1" />
<line x1="550.50" y1="809.30" x2="550.50" y2="820.30" stroke="#666" stroke-width="1" />
<rect x="629.85" y="810.50" width="6" height="5.20" rx="1" fill="#fff" stroke="#222" stroke-width="1"/>
<circle cx="619.75" cy="815.00" r="11.90" stroke="#1a1a1a" stroke-width="1.3" fill="#fff"/>
<line x1="614.25" y1="815.50" x2="625.25" y2="815.50" stroke="#666" stroke-width="1" />
<line x1="619.50" y1="809.50" x2="619.50" y2="820.50" stroke="#666" stroke-width="1" />
<rect x="662.40" y="846.00" width="6" height="4.50" rx="1" fill="#fff" stroke="#222" stroke-width="1"/>
<circle cx="652.30" cy="848.30" r="11.50" stroke="#1a1a1a" stroke-width="1.3" fill="#fff"/>
<line x1="646.80" y1="848.50" x2="657.80" y2="848.50" stroke="#666" stroke-width="1" />
<line x1="652.50" y1="842.80" x2="652.50" y2="853.80" stroke="#666" stroke-width="1" />
<rect x="662.30" y="957.50" width="6" height="4.50" rx="1" fill="#fff" stroke="#222" stroke-width="1"/>
<circle cx="652.20" cy="959.60" r="11.80" stroke="#1a1a1a" stroke-width="1.3" fill="#fff"/>
<line x1="646.70" y1="959.50" x2="657.70" y2="959.50" stroke="#666" stroke-width="1" />
<line x1="652.50" y1="954.10" x2="652.50" y2="965.10" stroke="#666" stroke-width="1" />
<rect x="534.50" y="993.00" width="6" height="4.50" rx="1" fill="#fff" stroke="#222" stroke-width="1"/>
<circle cx="550.60" cy="993.30" r="11.90" stroke="#1a1a1a" stroke-width="1.3" fill="#fff"/>
<line x1="545.10" y1="993.50" x2="556.10" y2="993.50" stroke="#666" stroke-width="1" />
<line x1="550.50" y1="987.80" x2="550.50" y2="998.80" stroke="#666" stroke-width="1" />
<rect x="629.75" y="993.00" width="6" height="4.50" rx="1" fill="#fff" stroke="#222" stroke-width="1"/>
<circle cx="619.65" cy="993.40" r="11.90" stroke="#1a1a1a" stroke-width="1.3" fill="#fff"/>
<line x1="614.15" y1="993.50" x2="625.15" y2="993.50" stroke="#666" stroke-width="1" />
<line x1="619.50" y1="987.90" x2="619.50" y2="998.90" stroke="#666" stroke-width="1" />
<line x1="493.00" y1="863.50" x2="573.50" y2="863.50" stroke="#444" stroke-width="0.9" />
<line x1="493.00" y1="944.50" x2="573.50" y2="944.50" stroke="#444" stroke-width="0.9" />
<line x1="596.50" y1="904.50" x2="671.00" y2="904.50" stroke="#444" stroke-width="0.9" />
<line x1="472.00" y1="823.50" x2="519.40" y2="823.50" stroke="#555" stroke-width="1" />
<line x1="472.00" y1="985.50" x2="519.40" y2="985.50" stroke="#555" stroke-width="1" />
<line x1="504.40" y1="847.50" x2="519.40" y2="847.50" stroke="#333" stroke-width="1" />
<line x1="504.40" y1="879.50" x2="519.40" y2="879.50" stroke="#333" stroke-width="1" />
<line x1="524.50" y1="752.50" x2="524.50" y2="817.50" stroke="#444" stroke-width="1" />
<line x1="524.50" y1="988.00" x2="524.50" y2="1114.20" stroke="#444" stroke-width="1" />
<line x1="565.50" y1="752.50" x2="565.50" y2="822.00" stroke="#888" stroke-width="1" />
<line x1="638.50" y1="751.90" x2="638.50" y2="843.00" stroke="#888" stroke-width="1" />
<line x1="671.50" y1="751.90" x2="671.50" y2="848.80" stroke="#888" stroke-width="1" />
<line x1="671.50" y1="964.00" x2="671.50" y2="1113.50" stroke="#888" stroke-width="1" />
<line x1="666.50" y1="988.00" x2="666.50" y2="1087.00" stroke="#555" stroke-width="1" />
<line x1="636.90" y1="782.50" x2="785.00" y2="782.50" stroke="#555" stroke-width="1" />
<line x1="670.00" y1="823.50" x2="755.60" y2="823.50" stroke="#888" stroke-width="1" />
<line x1="676.30" y1="853.50" x2="731.90" y2="853.50" stroke="#444" stroke-width="1" />
<line x1="676.30" y1="887.50" x2="702.50" y2="887.50" stroke="#888" stroke-width="1" />
<line x1="676.30" y1="920.50" x2="702.50" y2="920.50" stroke="#444" stroke-width="1" />
<line x1="676.30" y1="954.50" x2="731.90" y2="954.50" stroke="#888" stroke-width="1" />
<line x1="669.40" y1="985.50" x2="755.60" y2="985.50" stroke="#444" stroke-width="1" />
<line x1="636.70" y1="1025.50" x2="785.20" y2="1025.50" stroke="#555" stroke-width="1" />
<line x1="534.50" y1="1026.70" x2="534.50" y2="1058.80" stroke="#888" stroke-width="1" />
<line x1="636.50" y1="1026.70" x2="636.50" y2="1058.80" stroke="#888" stroke-width="1" />
<line x1="476.50" y1="824.40" x2="476.50" y2="984.40" stroke="#888" stroke-width="1" />
<polygon points="476.90,824.40 474.80,835.90 479.00,835.90" fill="#1a1a1a"/>
<polygon points="476.90,984.40 474.80,972.90 479.00,972.90" fill="#1a1a1a"/>
<text transform="translate(472.32,912.85) rotate(-90) scale(0.9558,1)" font-size="16.81" fill="#111">40</text>
<line x1="497.50" y1="864.50" x2="497.50" y2="943.80" stroke="#555" stroke-width="1" />
<polygon points="497.50,864.80 495.40,876.30 499.60,876.30" fill="#1a1a1a"/>
<polygon points="497.50,943.80 495.40,932.30 499.60,932.30" fill="#1a1a1a"/>
<text transform="translate(495.41,912.07) rotate(-90) scale(0.8615,1)" font-size="17.80" fill="#111">20</text>
<line x1="509.50" y1="746.00" x2="509.50" y2="905.00" stroke="#333" stroke-width="1" />
<polygon points="509.40,846.00 507.30,834.50 511.50,834.50" fill="#1a1a1a"/>
<polygon points="509.40,880.50 507.30,892.00 511.50,892.00" fill="#1a1a1a"/>
<text transform="translate(505.41,816.78) rotate(-90) scale(0.8114,1)" font-size="17.80" fill="#111">M8x1.25</text>
<line x1="524.40" y1="757.50" x2="565.40" y2="757.50" stroke="#333" stroke-width="1" />
<polygon points="525.00,757.50 536.50,755.40 536.50,759.60" fill="#1a1a1a"/>
<polygon points="565.00,757.50 553.50,755.40 553.50,759.60" fill="#1a1a1a"/>
<text transform="translate(537.01,750.22) scale(0.7750,1)" font-size="16.81" fill="#111">10</text>
<line x1="611.80" y1="756.50" x2="696.25" y2="756.50" stroke="#333" stroke-width="1" />
<polygon points="636.90,756.50 625.40,754.40 625.40,758.60" fill="#1a1a1a"/>
<polygon points="671.30,756.50 682.80,754.40 682.80,758.60" fill="#1a1a1a"/>
<text transform="translate(649.91,750.42) scale(0.9534,1)" font-size="16.74" fill="#111">8</text>
<line x1="779.50" y1="783.10" x2="779.50" y2="1025.00" stroke="#333" stroke-width="1" />
<polygon points="779.75,783.10 777.65,794.60 781.85,794.60" fill="#1a1a1a"/>
<polygon points="779.75,1025.00 777.65,1013.50 781.85,1013.50" fill="#1a1a1a"/>
<text transform="translate(776.06,912.04) rotate(-90) scale(0.8988,1)" font-size="17.66" fill="#111">60</text>
<line x1="750.50" y1="823.60" x2="750.50" y2="984.80" stroke="#333" stroke-width="1" />
<polygon points="750.60,823.60 748.50,835.10 752.70,835.10" fill="#1a1a1a"/>
<polygon points="750.60,984.80 748.50,973.30 752.70,973.30" fill="#1a1a1a"/>
<text transform="translate(747.32,911.59) rotate(-90) scale(0.9190,1)" font-size="16.81" fill="#111">40</text>
<line x1="726.50" y1="854.00" x2="726.50" y2="954.40" stroke="#333" stroke-width="1" />
<polygon points="726.50,854.00 724.40,865.50 728.60,865.50" fill="#1a1a1a"/>
<polygon points="726.50,954.40 724.40,942.90 728.60,942.90" fill="#1a1a1a"/>
<text transform="translate(723.56,913.26) rotate(-90) scale(0.8654,1)" font-size="17.66" fill="#111">25</text>
<line x1="697.50" y1="862.50" x2="697.50" y2="1000.00" stroke="#888" stroke-width="1" />
<polygon points="697.75,886.20 695.65,874.70 699.85,874.70" fill="#1a1a1a"/>
<polygon points="697.75,921.30 695.65,932.80 699.85,932.80" fill="#1a1a1a"/>
<text transform="translate(696.06,992.44) rotate(-90) scale(0.8202,1)" font-size="17.66" fill="#111">M8x1.25</text>
<polygon points="667.60,828.30 679.10,826.20 679.10,830.40" fill="#1a1a1a"/>
<polygon points="665.00,874.00 676.50,871.90 676.50,876.10" fill="#1a1a1a"/>
<line x1="534.40" y1="1054.50" x2="636.00" y2="1054.50" stroke="#666" stroke-width="1" />
<polygon points="535.60,1054.00 547.10,1051.90 547.10,1056.10" fill="#1a1a1a"/>
<polygon points="635.20,1054.00 623.70,1051.90 623.70,1056.10" fill="#1a1a1a"/>
<text transform="translate(575.19,1050.02) scale(0.9668,1)" font-size="16.67" fill="#111">20</text>
<line x1="524.50" y1="1081.50" x2="666.40" y2="1081.50" stroke="#888" stroke-width="1" />
<polygon points="525.00,1081.90 536.50,1079.80 536.50,1084.00" fill="#1a1a1a"/>
<polygon points="665.80,1081.90 654.30,1079.80 654.30,1084.00" fill="#1a1a1a"/>
<text transform="translate(586.92,1077.62) scale(0.9279,1)" font-size="16.31" fill="#111">32</text>
<line x1="524.50" y1="1108.50" x2="671.10" y2="1108.50" stroke="#888" stroke-width="1" />
<polygon points="525.00,1108.60 536.50,1106.50 536.50,1110.70" fill="#1a1a1a"/>
<polygon points="670.60,1108.60 659.10,1106.50 659.10,1110.70" fill="#1a1a1a"/>
<text transform="translate(589.98,1104.82) scale(0.9671,1)" font-size="16.95" fill="#111">33</text>
<circle cx="108.10" cy="177.50" r="4.80" stroke="#00983a" stroke-width="2.7" fill="none"/>
<circle cx="167.90" cy="177.50" r="4.80" stroke="#00983a" stroke-width="2.7" fill="none"/>
<circle cx="236.90" cy="177.50" r="4.80" stroke="#00983a" stroke-width="2.7" fill="none"/>
<circle cx="409.25" cy="177.50" r="4.80" stroke="#00983a" stroke-width="2.7" fill="none"/>
<circle cx="478.00" cy="177.50" r="4.80" stroke="#00983a" stroke-width="2.7" fill="none"/>
<circle cx="650.00" cy="177.50" r="4.80" stroke="#00983a" stroke-width="2.7" fill="none"/>
<circle cx="718.75" cy="177.50" r="4.80" stroke="#00983a" stroke-width="2.7" fill="none"/>
<circle cx="1511.25" cy="160.40" r="4.80" stroke="#00983a" stroke-width="2.7" fill="none"/>
<circle cx="1511.25" cy="194.60" r="4.80" stroke="#00983a" stroke-width="2.7" fill="none"/>
<circle cx="1683.25" cy="160.40" r="4.80" stroke="#00983a" stroke-width="2.7" fill="none"/>
<circle cx="1683.25" cy="194.60" r="4.80" stroke="#00983a" stroke-width="2.7" fill="none"/>
<circle cx="1752.00" cy="160.40" r="4.80" stroke="#00983a" stroke-width="2.7" fill="none"/>
<circle cx="1752.00" cy="194.60" r="4.80" stroke="#00983a" stroke-width="2.7" fill="none"/>
<circle cx="1407.9" cy="177.4" r="4.05" stroke="#111" stroke-width="2" fill="none"/>
<circle cx="168.00" cy="607.50" r="4.80" stroke="#00983a" stroke-width="2.7" fill="none"/>
<circle cx="237.00" cy="607.50" r="4.80" stroke="#00983a" stroke-width="2.7" fill="none"/>
<circle cx="409.00" cy="607.50" r="4.80" stroke="#00983a" stroke-width="2.7" fill="none"/>
<circle cx="856.75" cy="607.5" r="3.9" stroke="#111" stroke-width="1.8" fill="none"/>
<circle cx="1201.25" cy="590.75" r="4.80" stroke="#00983a" stroke-width="2.7" fill="none"/>
<circle cx="1201.25" cy="625.00" r="4.80" stroke="#00983a" stroke-width="2.7" fill="none"/>
<circle cx="1270.00" cy="590.75" r="4.80" stroke="#00983a" stroke-width="2.7" fill="none"/>
<circle cx="1270.00" cy="625.00" r="4.80" stroke="#00983a" stroke-width="2.7" fill="none"/>
<circle cx="1442.50" cy="590.75" r="4.80" stroke="#00983a" stroke-width="2.7" fill="none"/>
<circle cx="1442.50" cy="625.00" r="4.80" stroke="#00983a" stroke-width="2.7" fill="none"/>
<circle cx="1511.25" cy="590.75" r="4.80" stroke="#00983a" stroke-width="2.7" fill="none"/>
<circle cx="1511.25" cy="625.00" r="4.80" stroke="#00983a" stroke-width="2.7" fill="none"/>
<circle cx="1683.25" cy="590.75" r="4.80" stroke="#00983a" stroke-width="2.7" fill="none"/>
<circle cx="1683.25" cy="625.00" r="4.80" stroke="#00983a" stroke-width="2.7" fill="none"/>
<circle cx="1752.00" cy="590.75" r="4.80" stroke="#00983a" stroke-width="2.7" fill="none"/>
<circle cx="1752.00" cy="625.00" r="4.80" stroke="#00983a" stroke-width="2.7" fill="none"/>
<circle cx="1810.20" cy="607.80" r="6.00" stroke="#00983a" stroke-width="3.1" fill="none"/>
</svg>
</body></html>
